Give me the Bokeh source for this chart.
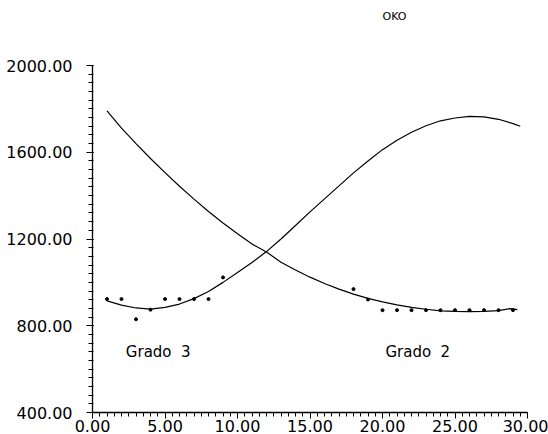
from bokeh.plotting import figure
from bokeh.models import Range1d, Label, Title, FixedTicker, NumeralTickFormatter
from bokeh.embed import file_html
from bokeh.resources import INLINE

# Observed points
x_left = [1, 2, 3, 4, 5, 6, 7, 8, 9]
y_left = [923, 923, 830, 874, 923, 923, 923, 923, 1023]
x_right = [18, 19, 20, 21, 22, 23, 24, 25, 26, 27, 28, 29]
y_right = [969, 921, 872, 872, 872, 872, 872, 872, 872, 872, 872, 872]

# Fitted curve, degree 3
x_g3 = [1, 2, 3, 4, 5, 6, 7, 8, 9, 10, 11, 12, 13, 14, 15, 16, 17, 18, 19, 20,
        21, 22, 23, 24, 25, 26, 27, 28, 29, 29.5]
y_g3 = [915, 895, 882, 877, 885, 900, 925, 958, 1000, 1045, 1092, 1142, 1200,
        1262, 1325, 1385, 1445, 1505, 1560, 1612, 1655, 1692, 1722, 1745, 1758,
        1765, 1763, 1752, 1732, 1720]

# Fitted curve, degree 2
x_g2 = [1, 2, 3, 4, 5, 6, 7, 8, 9, 10, 11, 12, 13, 14, 15, 16, 17, 18, 19, 20,
        21, 22, 23, 24, 25, 26, 27, 28, 28.8, 29.3]
y_g2 = [1791, 1711, 1640, 1571, 1506, 1443, 1384, 1327, 1274, 1224, 1177, 1140,
        1093, 1057, 1024, 995, 969, 946, 926, 910, 896, 885, 876, 869, 866, 865,
        866, 870, 879, 874]

x_ticks = [0, 5, 10, 15, 20, 25, 30]
y_ticks = [400, 800, 1200, 1600, 2000]

FONT = "DejaVu Sans"

p = figure(width=548, height=434, output_backend="svg", toolbar_location=None,
           x_range=Range1d(0, 30), y_range=Range1d(400, 2000),
           min_border_left=92, min_border_right=21, min_border_top=65,
           min_border_bottom=21, title="OKO")
p.background_fill_color = "white"
p.border_fill_color = "white"
p.outline_line_color = None
p.grid.visible = False

p.title.align = "left"
p.title.offset = 290
p.title.text_font = FONT
p.title.text_font_size = "11px"
p.title.text_font_style = "normal"
p.title.text_color = "black"
p.title.standoff = 0

# blank band between the title and the plotting frame
p.add_layout(Title(text=" ", text_font_size="11px", standoff=29), "above")

for ax in (p.xaxis, p.yaxis):
    ax.axis_line_color = "black"
    ax.axis_line_width = 1.3
    ax.major_tick_line_color = "black"
    ax.minor_tick_line_color = "black"
    ax.major_label_text_font = FONT
    ax.major_label_text_font_size = "16px"
    ax.major_label_text_color = "black"
    ax.formatter = NumeralTickFormatter(format="0.00")

p.xaxis.ticker = FixedTicker(ticks=x_ticks,
                             minor_ticks=[i * 0.5 for i in range(61)])
p.yaxis.ticker = FixedTicker(ticks=y_ticks,
                             minor_ticks=[400 + 40 * i for i in range(41)])
p.xaxis.major_tick_out = 6
p.xaxis.major_tick_in = 0
p.xaxis.minor_tick_out = 4
p.xaxis.minor_tick_in = 0
p.xaxis.major_label_standoff = 1
p.yaxis.major_tick_out = 6
p.yaxis.major_tick_in = 1
p.yaxis.minor_tick_out = 4
p.yaxis.minor_tick_in = 1
p.yaxis.major_label_standoff = 14

p.line(x_g3, y_g3, line_color="black", line_width=1.2)
p.line(x_g2, y_g2, line_color="black", line_width=1.2)
p.scatter(x_left, y_left, size=3, color="black")
p.scatter(x_right, y_right, size=3, color="black")

p.add_layout(Label(x=2.3, y=677, text="Grado \u00a03", text_font=FONT,
                   text_font_size="15px", text_baseline="middle",
                   text_color="black"))
p.add_layout(Label(x=20.2, y=677, text="Grado \u00a02", text_font=FONT,
                   text_font_size="15px", text_baseline="middle",
                   text_color="black"))

open("out.html", "w").write(file_html(p, INLINE))
